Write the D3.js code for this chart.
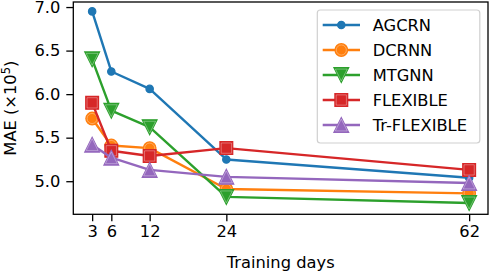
<!DOCTYPE html>
<html><head><meta charset="utf-8">
<script src="https://cdn.jsdelivr.net/npm/d3@7/dist/d3.min.js"></script>
<style>body{margin:0;background:#fff}svg{display:block;font-family:"DejaVu Sans",sans-serif}</style>
</head><body><svg id="c" width="490" height="272"></svg>
<script>
const days = [3, 6, 12, 24, 62];
const seriesNames = ["AGCRN", "DCRNN", "MTGNN", "FLEXIBLE", "Tr-FLEXIBLE"];
const agcrn = [6.95, 6.26, 6.06, 5.25, 5.04];
const dcrnn = [5.72, 5.41, 5.38, 4.91, 4.86];
const mtgnn = [6.40, 5.81, 5.62, 4.82, 4.75];
const flexible = [5.90, 5.35, 5.29, 5.38, 5.13];
const trFlexible = [5.42, 5.27, 5.13, 5.05, 4.98];
const yTicks = [5.0, 5.5, 6.0, 6.5, 7.0];
const colors = ["#1f77b4", "#ff7f0e", "#2ca02c", "#d62728", "#9467bd"];
const markers = ["smallCircle", "circle", "triDown", "square", "triUp"];

const allSeries = [agcrn, dcrnn, mtgnn, flexible, trFlexible];
const svg = d3.select("#c");
const L = 73.3, R = 488, T = 2, B = 214.3;
const x = d3.scaleLinear().domain([0.05, 64.95]).range([L, R]);
const y = d3.scaleLinear().domain([4.62, 7.058]).range([B, T]);
const fs = 16.3;

function markerPath(kind) {
  switch (kind) {
    case "smallCircle": return d3.symbol(d3.symbolCircle, Math.PI * 3.7 * 3.7)();
    case "circle": return d3.symbol(d3.symbolCircle, Math.PI * 6.3 * 6.3)();
    case "square": { const h = 6.4; return `M${-h},${-h}H${h}V${h}H${-h}Z`; }
    case "triDown": { const h = 7.4; return `M${-h},${-h}L${h},${-h}L0,${h}Z`; }
    case "triUp": { const h = 7.4; return `M${-h},${h}L${h},${h}L0,${-h}Z`; }
  }
}
function drawMarker(g, kind, color, cx, cy) {
  const p = markerPath(kind);
  const m = g.append("g").attr("transform", `translate(${cx},${cy})`);
  m.append("path").attr("d", p).attr("fill", color).attr("stroke", color).attr("stroke-width", 1.2);
  if (kind !== "smallCircle") {
    m.append("path").attr("d", p).attr("transform", "scale(0.8)")
      .attr("fill", "none").attr("stroke", "#fff").attr("stroke-opacity", 0.45).attr("stroke-width", 0.9);
  }
}

// axes
const yAxis = d3.axisLeft(y).tickValues(yTicks).tickFormat(d3.format(".1f")).tickSize(7).tickPadding(6);
const xAxis = d3.axisBottom(x).tickValues(days).tickFormat(d3.format("d")).tickSize(7).tickPadding(4);
const gy = svg.append("g").attr("transform", `translate(${L},0)`).call(yAxis);
const gx = svg.append("g").attr("transform", `translate(0,${B})`).call(xAxis);
[gx, gy].forEach(g => {
  g.select(".domain").remove();
  g.selectAll("line").attr("stroke", "#000").attr("stroke-width", 1.3);
  g.selectAll("text").attr("font-size", fs).attr("fill", "#000").attr("font-family", "DejaVu Sans");
});

// series
const line = d3.line().x((d, i) => x(days[i])).y(d => y(d));
allSeries.forEach((vals, si) => {
  const g = svg.append("g");
  g.append("path").datum(vals).attr("d", line).attr("fill", "none")
    .attr("stroke", colors[si]).attr("stroke-width", 2.4).attr("stroke-linejoin", "round");
  vals.forEach((v, i) => drawMarker(g, markers[si], colors[si], x(days[i]), y(v)));
});

// frame
svg.append("rect").attr("x", L).attr("y", T).attr("width", R - L).attr("height", B - T)
  .attr("fill", "none").attr("stroke", "#000").attr("stroke-width", 1.3);

// legend
const lg = svg.append("g");
lg.append("rect").attr("x", 317.3).attr("y", 10).attr("width", 162.5).attr("height", 133).attr("rx", 3)
  .attr("fill", "#fff").attr("fill-opacity", 0.8).attr("stroke", "#d0d0d0").attr("stroke-width", 1.2);
seriesNames.forEach((name, i) => {
  const cy = 25 + i * 25;
  lg.append("line").attr("x1", 322.7).attr("x2", 360).attr("y1", cy).attr("y2", cy)
    .attr("stroke", colors[i]).attr("stroke-width", 2.4);
  drawMarker(lg, markers[i], colors[i], 341.3, cy);
  lg.append("text").attr("x", 372.7).attr("y", cy).attr("dy", "0.36em").attr("font-size", fs)
    .attr("fill", "#000").text(name);
});

// labels
svg.append("text").attr("x", 280.7).attr("y", 268).attr("text-anchor", "middle").attr("font-size", fs)
  .attr("fill", "#000").text("Training days");
const yl = svg.append("text").attr("transform", `translate(16,${(T + B) / 2}) rotate(-90)`)
  .attr("text-anchor", "middle").attr("font-size", fs).attr("fill", "#000");
yl.append("tspan").text("MAE (×10");
yl.append("tspan").attr("font-size", fs * 0.7).attr("dy", -6.5).text("5");
yl.append("tspan").attr("dy", 6.5).text(")");
</script></body></html>
